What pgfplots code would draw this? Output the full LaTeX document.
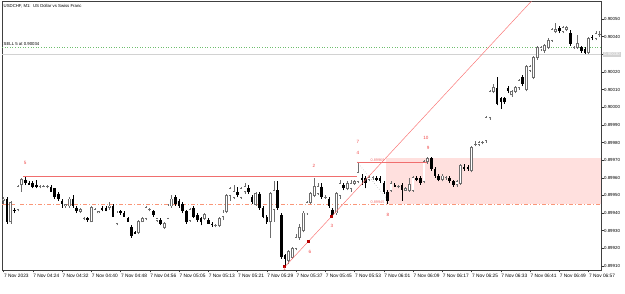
\documentclass[border=0pt]{standalone}
\usepackage{fontspec}
\setmainfont{Liberation Sans}
\usepackage{pgfplots}
\usepackage{pgfplotstable}
\pgfplotsset{compat=1.18}
\definecolor{bullc}{RGB}{110,110,110}
\definecolor{redl}{RGB}{240,110,110}
\definecolor{trend}{RGB}{250,120,120}
\definecolor{dashc}{RGB}{250,150,120}
\definecolor{rectc}{RGB}{255,224,222}
\definecolor{greenl}{RGB}{110,190,110}
\definecolor{grayl}{RGB}{210,210,210}
\definecolor{pivc}{RGB}{240,70,70}
\newcommand\tk{\fontsize{4.8}{5.5}\selectfont}
\newcommand\yk{\fontsize{4.4}{5}\selectfont}
\newcommand\pk{\fontsize{4.6}{5}\selectfont}
\pgfplotstableread{
i o h l c
0 0.89947 0.89949 0.89945 0.89948
1 0.89948 0.89949 0.89934 0.89935
2 0.89935 0.89947 0.89934 0.89946
3 0.89942 0.89943 0.89940 0.89941
4 0.89942 0.89956 0.89941 0.89955
5 0.89956 0.89960 0.89952 0.89959
6 0.89959 0.89961 0.89956 0.89957
7 0.89957 0.89958 0.89956 0.89956
8 0.89957 0.89958 0.89954 0.89955
9 0.89956 0.89959 0.89954 0.89955
10 0.89955 0.89956 0.89954 0.89955
11 0.89955 0.89956 0.89955 0.89955
12 0.89955 0.89956 0.89954 0.89955
13 0.89955 0.89956 0.89952 0.89952
14 0.89954 0.89954 0.89948 0.89949
15 0.89951 0.89952 0.89947 0.89948
16 0.89947 0.89948 0.89943 0.89945
17 0.89944 0.89945 0.89943 0.89945
18 0.89944 0.89949 0.89943 0.89948
19 0.89948 0.89950 0.89943 0.89944
20 0.89943 0.89944 0.89940 0.89941
21 0.89941 0.89943 0.89940 0.89942
22 0.89937 0.89938 0.89936 0.89937
23 0.89937 0.89938 0.89935 0.89936
24 0.89935 0.89944 0.89935 0.89943
25 0.89942 0.89943 0.89942 0.89942
26 0.89940 0.89941 0.89940 0.89941
27 0.89943 0.89944 0.89941 0.89942
28 0.89943 0.89944 0.89941 0.89941
29 0.89943 0.89946 0.89942 0.89944
30 0.89944 0.89945 0.89938 0.89938
31 0.89934 0.89941 0.89933 0.89940
32 0.89941 0.89942 0.89939 0.89940
33 0.89940 0.89941 0.89938 0.89938
34 0.89937 0.89938 0.89935 0.89935
35 0.89932 0.89933 0.89926 0.89927
36 0.89929 0.89930 0.89928 0.89928
37 0.89929 0.89936 0.89928 0.89935
38 0.89935 0.89938 0.89935 0.89937
39 0.89937 0.89944 0.89936 0.89943
40 0.89942 0.89943 0.89941 0.89942
41 0.89941 0.89942 0.89938 0.89939
42 0.89936 0.89937 0.89935 0.89937
43 0.89936 0.89937 0.89933 0.89934
44 0.89932 0.89935 0.89931 0.89934
45 0.89937 0.89945 0.89937 0.89944
46 0.89944 0.89950 0.89943 0.89948
47 0.89949 0.89950 0.89944 0.89945
48 0.89947 0.89948 0.89943 0.89944
49 0.89945 0.89946 0.89940 0.89941
50 0.89941 0.89942 0.89934 0.89935
51 0.89936 0.89943 0.89935 0.89942
52 0.89943 0.89944 0.89937 0.89938
53 0.89939 0.89940 0.89935 0.89936
54 0.89937 0.89938 0.89933 0.89935
55 0.89937 0.89940 0.89936 0.89939
56 0.89936 0.89937 0.89934 0.89934
57 0.89934 0.89935 0.89932 0.89933
58 0.89933 0.89934 0.89932 0.89933
59 0.89933 0.89938 0.89932 0.89937
60 0.89938 0.89942 0.89936 0.89940
61 0.89941 0.89951 0.89940 0.89950
62 0.89950 0.89955 0.89947 0.89954
63 0.89949 0.89956 0.89948 0.89952
64 0.89952 0.89955 0.89949 0.89950
65 0.89949 0.89955 0.89948 0.89954
66 0.89952 0.89957 0.89951 0.89955
67 0.89954 0.89956 0.89951 0.89952
68 0.89949 0.89950 0.89945 0.89946
69 0.89945 0.89952 0.89944 0.89951
70 0.89951 0.89952 0.89942 0.89943
71 0.89943 0.89944 0.89937 0.89938
72 0.89938 0.89939 0.89934 0.89935
73 0.89935 0.89952 0.89926 0.89951
74 0.89942 0.89958 0.89935 0.89953
75 0.89953 0.89958 0.89942 0.89943
76 0.89939 0.89940 0.89914 0.89915
77 0.89916 0.89917 0.89910 0.89914
78 0.89913 0.89919 0.89911 0.89918
79 0.89915 0.89921 0.89914 0.89920
80 0.89920 0.89928 0.89919 0.89926
81 0.89926 0.89934 0.89925 0.89932
82 0.89930 0.89941 0.89929 0.89940
83 0.89940 0.89947 0.89939 0.89946
84 0.89946 0.89952 0.89945 0.89951
85 0.89950 0.89960 0.89949 0.89955
86 0.89951 0.89957 0.89950 0.89955
87 0.89955 0.89957 0.89948 0.89949
88 0.89949 0.89950 0.89948 0.89949
89 0.89948 0.89949 0.89943 0.89944
90 0.89942 0.89943 0.89938 0.89939
91 0.89940 0.89952 0.89939 0.89951
92 0.89950 0.89959 0.89948 0.89957
93 0.89956 0.89957 0.89953 0.89954
94 0.89954 0.89958 0.89953 0.89957
95 0.89954 0.89959 0.89952 0.89957
96 0.89957 0.89959 0.89956 0.89958
97 0.89958 0.89969 0.89957 0.89963
98 0.89960 0.89962 0.89956 0.89959
99 0.89960 0.89961 0.89954 0.89957
100 0.89959 0.89961 0.89958 0.89960
101 0.89960 0.89961 0.89959 0.89960
102 0.89960 0.89961 0.89958 0.89959
103 0.89960 0.89961 0.89957 0.89958
104 0.89957 0.89958 0.89951 0.89952
105 0.89952 0.89953 0.89945 0.89947
106 0.89953 0.89958 0.89952 0.89957
107 0.89956 0.89957 0.89955 0.89955
108 0.89955 0.89956 0.89954 0.89955
109 0.89956 0.89957 0.89947 0.89953
110 0.89953 0.89955 0.89953 0.89954
111 0.89953 0.89960 0.89952 0.89956
112 0.89953 0.89961 0.89952 0.89960
113 0.89960 0.89961 0.89958 0.89959
114 0.89960 0.89961 0.89956 0.89957
115 0.89958 0.89970 0.89957 0.89969
116 0.89969 0.89972 0.89968 0.89971
117 0.89971 0.89972 0.89964 0.89965
118 0.89965 0.89966 0.89960 0.89961
119 0.89961 0.89962 0.89958 0.89959
120 0.89959 0.89962 0.89958 0.89961
121 0.89960 0.89961 0.89959 0.89960
122 0.89960 0.89961 0.89957 0.89958
123 0.89958 0.89959 0.89955 0.89956
124 0.89956 0.89959 0.89955 0.89958
125 0.89957 0.89968 0.89956 0.89967
126 0.89966 0.89968 0.89964 0.89965
127 0.89966 0.89967 0.89964 0.89965
128 0.89964 0.89978 0.89963 0.89977
129 0.89979 0.89981 0.89978 0.89979
130 0.89979 0.89981 0.89978 0.89980
131 0.89980 0.89981 0.89979 0.89980
132 0.89981 0.89995 0.89980 0.89994
133 0.89994 0.90010 0.89993 0.90009
134 0.90009 0.90013 0.90008 0.90011
135 0.90011 0.90017 0.90001 0.90002
136 0.90005 0.90006 0.89999 0.90003
137 0.90005 0.90006 0.90002 0.90003
138 0.90011 0.90012 0.90008 0.90009
139 0.90007 0.90010 0.90006 0.90009
140 0.90009 0.90012 0.90008 0.90011
141 0.90011 0.90016 0.90010 0.90015
142 0.90017 0.90018 0.90012 0.90013
143 0.90010 0.90024 0.90009 0.90023
144 0.90021 0.90024 0.90020 0.90023
145 0.90017 0.90029 0.90016 0.90028
146 0.90028 0.90035 0.90027 0.90034
147 0.90033 0.90035 0.90032 0.90034
148 0.90032 0.90036 0.90031 0.90035
149 0.90034 0.90039 0.90033 0.90038
150 0.90038 0.90045 0.90037 0.90044
151 0.90043 0.90048 0.90042 0.90044
152 0.90045 0.90046 0.90042 0.90043
153 0.90043 0.90046 0.90042 0.90045
154 0.90044 0.90046 0.90043 0.90045
155 0.90042 0.90044 0.90035 0.90036
156 0.90034 0.90035 0.90033 0.90034
157 0.90034 0.90041 0.90033 0.90036
158 0.90034 0.90035 0.90031 0.90032
159 0.90033 0.90034 0.90030 0.90031
160 0.90031 0.90040 0.90030 0.90039
161 0.90040 0.90041 0.90038 0.90039
162 0.90039 0.90043 0.90038 0.90042
163 0.90041 0.90043 0.90040 0.90041
}\candles
\pgfplotsset{candle/.style={only marks, mark=*, mark size=0pt, mark options={draw=none,fill=none}}}
\begin{document}
\begin{tikzpicture}
\begin{axis}[
  at={(0,0)}, anchor=south west,
  scale only axis, width=599pt, height=269pt,
  xmin=-0.4, xmax=163.4, ymin=0.8990771, ymax=0.9006023,
  clip mode=individual,
  scaled x ticks=false, scaled y ticks=false,
  axis line style={black!75, line width=0.5pt},
  tick align=outside, major tick length=2.5pt,
  tick style={black!80, line width=0.4pt},
  xtick pos=bottom, ytick pos=right,
  xtick={0,8,16,24,32,40,48,56,64,72,80,88,96,104,112,120,128,136,144,152,160},
  xticklabels={7 Nov 2023,7 Nov 04:24,7 Nov 04:32,7 Nov 04:40,7 Nov 04:48,7 Nov 04:56,7 Nov 05:05,7 Nov 05:13,7 Nov 05:21,7 Nov 05:29,7 Nov 05:37,7 Nov 05:45,7 Nov 05:53,7 Nov 06:01,7 Nov 06:09,7 Nov 06:17,7 Nov 06:25,7 Nov 06:33,7 Nov 06:41,7 Nov 06:49,7 Nov 06:57},
  xticklabel style={font=\tk, anchor=north west, inner sep=0pt, xshift=0.4pt, yshift=-1pt},
  ytick={0.8991,0.8992,0.8993,0.8994,0.8995,0.8996,0.8997,0.8998,0.8999,0.9000,0.9001,0.9002,0.9003,0.9004,0.9005},
  yticklabels={0.89910,0.89920,0.89930,0.89940,0.89950,0.89960,0.89970,0.89980,0.89990,0.90000,0.90010,0.90020,{},0.90040,0.90050},
  yticklabel pos=right,
  yticklabel style={font=\yk, anchor=west, inner sep=0pt, xshift=0.4pt},
]
% background rectangle
\addplot[fill=rectc, draw=none] coordinates {(104.6,0.89945) (163.4,0.89945) (163.4,0.89971) (104.6,0.89971)} -- cycle;
% horizontal levels
\addplot[dashc, dash pattern=on 4pt off 2pt on 1pt off 2pt, line width=0.6pt] coordinates {(-0.4,0.89945) (163.4,0.89945)};
\addplot[grayl, line width=1.2pt] coordinates {(-0.4,0.90030) (163.4,0.90030)};
\addplot[greenl, dotted, line width=0.6pt] coordinates {(-0.4,0.90034) (163.4,0.90034)};
% candles: wicks
\addplot[candle, restrict expr to domain={\thisrow{c}-\thisrow{o}}{0:1},
  error bars/.cd, y dir=plus, y explicit, error mark=none,
  error bar style={color=bullc, line width=0.55pt}]
  table[x=i, y=l, y error plus expr={\thisrow{h}-\thisrow{l}}] {\candles};
\addplot[candle, restrict expr to domain={\thisrow{c}-\thisrow{o}}{-1:-0.000001},
  error bars/.cd, y dir=plus, y explicit, error mark=none,
  error bar style={color=black, line width=0.55pt}]
  table[x=i, y=l, y error plus expr={\thisrow{h}-\thisrow{l}}] {\candles};
% bear bodies
\addplot[candle, restrict expr to domain={\thisrow{c}-\thisrow{o}}{-1:-0.000001},
  error bars/.cd, y dir=minus, y explicit, error mark=none,
  error bar style={color=black, line width=2.5pt}]
  table[x=i, y=o, y error minus expr={\thisrow{o}-\thisrow{c}}] {\candles};
% bull bodies (outline + white inside)
\addplot[candle, restrict expr to domain={\thisrow{c}-\thisrow{o}}{0:1},
  error bars/.cd, y dir=plus, y explicit, error mark=none,
  error bar style={color=bullc, line width=2.6pt}]
  table[x=i, y expr={\thisrow{o}-0.0000025}, y error plus expr={\thisrow{c}-\thisrow{o}+0.000005}] {\candles};
\addplot[candle, restrict expr to domain={\thisrow{c}-\thisrow{o}}{0:1},
  error bars/.cd, y dir=plus, y explicit, error mark=none,
  error bar style={color=white, line width=1.4pt}]
  table[x=i, y expr={\thisrow{o}+0.0000025}, y error plus expr={max(\thisrow{c}-\thisrow{o}-0.000005,0)}] {\candles};
% pattern lines
\addplot[redl, line width=0.6pt] coordinates {(5.4,0.89961) (96.7,0.89961)};
\addplot[redl, line width=0.6pt] coordinates {(96.7,0.89969) (115.8,0.89969)};
\addplot[gray!70, dotted, line width=0.5pt] coordinates {(96.7,0.89969) (104.9,0.89948)};
\addplot[trend, line width=0.5pt] coordinates {(76.7,0.89909) (150,0.900727)};
\addplot[only marks, mark=square*, mark size=0.9pt, mark options={draw=red!70!black, fill=red!80!black}] coordinates {(76.7,0.89910) (83.3,0.89924) (89.6,0.89938)};
% texts
\node[anchor=north west, inner sep=0pt, font=\fontsize{4.3}{5}\selectfont] at (axis cs:-0.4,0.9006023) [xshift=1.5pt, yshift=-3pt] {USDCHF, M1:\ \ US Dollar vs Swiss Franc};
\node[anchor=south west, inner sep=0pt, font=\fontsize{4.3}{5}\selectfont] at (axis cs:-0.4,0.90034) [xshift=1.5pt, yshift=1.5pt] {SELL 5 at 0.90034};
\node[anchor=west, inner sep=0.8pt, fill=grayl, text=white, font=\yk] at (axis cs:163.4,0.90030) [xshift=2pt] {0.90030};
\node[text=redl, font=\fontsize{3.8}{4}\selectfont, anchor=south, inner sep=0.5pt] at (axis cs:102.3,0.89969) {0.89969};
\node[text=redl, font=\fontsize{3.8}{4}\selectfont, anchor=south, inner sep=0.5pt] at (axis cs:102.3,0.89945) {0.89945};
\node[text=pivc, font=\pk] at (axis cs:5.9,0.899685) {5};
\node[text=pivc, font=\pk] at (axis cs:84.9,0.899667) {2};
\node[text=pivc, font=\pk] at (axis cs:96.9,0.899805) {7};
\node[text=pivc, font=\pk] at (axis cs:96.9,0.899740) {4};
\node[text=pivc, font=\pk] at (axis cs:89.8,0.899327) {3};
\node[text=pivc, font=\pk] at (axis cs:83.8,0.899180) {6};
\node[text=pivc, font=\pk] at (axis cs:76.9,0.899085) {1};
\node[text=pivc, font=\pk] at (axis cs:115.5,0.899826) {10};
\node[text=pivc, font=\pk] at (axis cs:116.1,0.899769) {9};
\node[text=pivc, font=\pk] at (axis cs:105.1,0.899389) {8};
\end{axis}
\pgfresetboundingbox
\path[use as bounding box] (-2pt,-23pt) rectangle (623pt,270pt);
\end{tikzpicture}
\end{document}
